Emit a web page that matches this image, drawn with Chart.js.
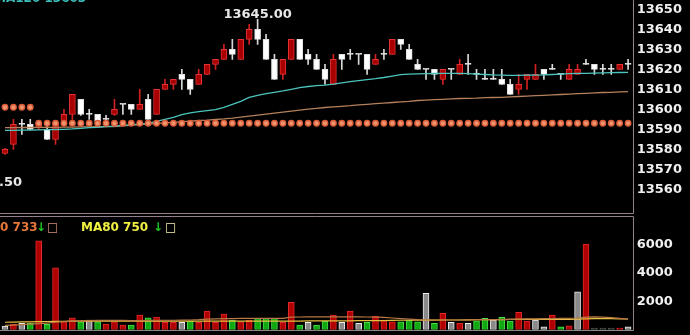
<!DOCTYPE html>
<html>
<head>
<meta charset="utf-8">
<script src="https://cdn.jsdelivr.net/npm/chart.js@4.4.0/dist/chart.umd.min.js"></script>
<style>
  html, body { margin: 0; padding: 0; background: #000; }
  #wrap { position: relative; width: 690px; height: 335px; overflow: hidden; background: #000; }
  #price { position: absolute; left: 0; top: 0; }
  #volume { position: absolute; left: 0; top: 214px; }
</style>
</head>
<body>
<div id="wrap">
  <canvas id="price" width="690" height="214"></canvas>
  <canvas id="volume" width="690" height="121"></canvas>
</div>
<script>
// candles
const opens = [13578,13582.5,13592.5,13592.5,13591,13590,13585,13594,13597.5,13605,
  13597.5,13597.5,13595,13597.5,13602.5,13602.5,13600,13605,13597.5,13610,
  13612.5,13617.5,13615,13612.5,13617.5,13622.5,13625,13630,13625,13635,
  13640,13635,13625,13617.5,13625,13635,13627.5,13625,13620,13612.5,
  13627.5,13627.5,13627.5,13627.5,13622.5,13627.5,13627.5,13635,13630,13622.5,
  13620,13620,13615,13620,13617.5,13622.5,13617.5,13615,13615,13615,
  13612.5,13610,13615,13615,13620,13620,13617.5,13615,13617.5,13622.5,
  13622.5,13620,13620,13620,13622.5];
const highs = [13580.5,13595,13595,13595,13594,13592,13593,13600,13607.5,13605,
  13600,13597.5,13597,13605,13602.5,13602.5,13610,13607.5,13610,13615,
  13615,13620,13615,13620,13622.5,13625,13632.5,13635,13635,13642.5,
  13645,13637.5,13627.5,13625,13635,13635,13630,13627.5,13622.5,13627.5,
  13627.5,13630,13627.5,13627.5,13627.5,13630,13635,13635,13632.5,13625,
  13620,13620,13620,13620,13625,13627.5,13620,13620,13620,13620,
  13615,13617.5,13617.5,13622.5,13620,13622.5,13617.5,13622.5,13622.5,13625,
  13622.5,13622.5,13622.5,13622.5,13625];
const lows = [13577.5,13580,13587.5,13590,13590,13585,13582.5,13593,13595,13597,
  13595,13593,13594,13597,13597.5,13597.5,13600,13595,13597.5,13610,
  13610,13610,13607.5,13612.5,13617.5,13620,13625,13625,13625,13632.5,
  13632.5,13625,13615,13615,13625,13625,13622.5,13620,13612.5,13612.5,
  13620,13625,13622.5,13617.5,13622.5,13625,13627.5,13630,13625,13620,
  13615,13615,13612.5,13615,13617.5,13617.5,13615,13615,13615,13612.5,
  13607.5,13607.5,13610,13615,13615,13620,13615,13615,13617.5,13622.5,
  13617.5,13617.5,13617.5,13620,13620];
const closes = [13580,13592.5,13592.5,13590,13593,13585,13592.5,13597.5,13607.5,13597.5,
  13597.5,13594,13595,13600,13602.5,13600,13602.5,13595,13610,13612.5,
  13615,13615,13610,13617.5,13622.5,13625,13630,13627.5,13635,13640,
  13635,13625,13615,13625,13635,13625,13625,13620,13615,13625,
  13625,13627.5,13627.5,13620,13625,13627.5,13635,13632.5,13625,13620,
  13620,13617.5,13620,13620,13622.5,13622.5,13617.5,13615,13615,13612.5,
  13607.5,13612.5,13617.5,13617.5,13617.5,13620,13617.5,13620,13620,13622.5,
  13620,13620,13620,13622.5,13622.5];

// moving averages on the price panel
const maFast = [13589.5,13589.5,13589.6,13589.6,13589.7,13589.8,13589.9,13590,13590.2,13590.5,
  13590.8,13591,13591.3,13591.6,13592,13592.3,13592.6,13593,13594,13595,
  13596,13597.3,13598.2,13598.8,13599.3,13599.8,13601,13602.5,13604,13606,
  13607,13607.8,13608.5,13609.2,13610,13610.8,13611.4,13611.8,13612.1,13612.6,
  13613.2,13613.8,13614.3,13614.8,13615.3,13615.9,13616.6,13617.3,13617.6,13617.7,
  13617.8,13617.9,13618,13618,13618,13617.8,13617.6,13617.4,13617.2,13617.1,
  13617,13617,13617.1,13617.1,13617.2,13617.4,13617.6,13617.8,13618,13618,
  13618.1,13618.2,13618.3,13618.4,13618.5];
const maSlow = [13590.8,13590.8,13590.9,13590.9,13591,13591,13591,13591.1,13591.1,13591.2,
  13591.2,13591.3,13591.3,13591.4,13591.7,13592,13592.3,13592.6,13592.9,13593.2,
  13593.5,13593.8,13594.1,13594.4,13594.6,13594.9,13595.2,13595.6,13596.1,13596.6,
  13597.1,13597.6,13598.1,13598.6,13599.1,13599.6,13600.1,13600.5,13600.9,13601.2,
  13601.5,13601.8,13602.2,13602.5,13602.8,13603.1,13603.4,13603.7,13604,13604.4,
  13604.6,13604.8,13605,13605.2,13605.4,13605.5,13605.6,13605.8,13605.9,13606,
  13606.2,13606.4,13606.6,13606.8,13607,13607.2,13607.4,13607.6,13607.8,13608,
  13608.2,13608.4,13608.5,13608.7,13608.8];
// stop dots
const stopDots = [13601,13601,13601,13601,13593,13593,13593,13593,13593,13593,
  13593,13593,13593,13593,13593,13593,13593,13593,13593,13593,
  13593,13593,13593,13593,13593,13593,13593,13593,13593,13593,
  13593,13593,13593,13593,13593,13593,13593,13593,13593,13593,
  13593,13593,13593,13593,13593,13593,13593,13593,13593,13593,
  13593,13593,13593,13593,13593,13593,13593,13593,13593,13593,
  13593,13593,13593,13593,13593,13593,13593,13593,13593,13593,
  13593,13593,13593,13593,13593];

// volume
const volumes = [250,370,440,440,6270,370,4370,550,830,550,
  670,550,390,550,320,320,1020,830,880,510,
  510,510,600,510,1310,510,1100,670,550,670,
  790,790,790,510,1920,320,510,320,600,1020,
  510,1310,440,510,950,670,550,550,670,550,
  2560,440,1150,510,440,440,620,790,670,860,
  600,1215,600,670,200,1020,200,270,2670,6040,
  100,100,100,100,200];
const volKind = ['w','r','w','g','r','g','r','r','r','g',
  'w','g','r','r','r','g','r','g','r','r',
  'r','w','g','r','r','r','r','g','r','r',
  'g','g','g','r','r','g','w','g','g','r',
  'w','r','w','g','r','r','r','g','g','g',
  'w','g','r','w','r','w','g','g','w','g',
  'g','r','r','w','w','r','g','r','w','r',
  'k','k','k','r','w'];
const volMa60 = [300,320,350,380,420,460,520,560,600,620,
  640,650,650,650,650,640,640,650,660,660,
  660,670,680,700,740,760,770,780,790,790,
  790,800,800,800,880,890,900,900,900,900,
  900,900,900,890,880,860,820,780,740,700,
  690,680,680,680,680,690,700,700,700,710,
  720,740,760,760,770,780,790,800,820,880,
  900,880,840,790,733];
const volMa80 = [520,530,540,550,560,570,580,590,600,600,
  600,600,600,600,600,600,600,600,600,600,
  600,600,600,600,600,600,600,600,600,600,
  600,600,600,600,600,600,610,610,610,620,
  620,620,630,630,640,640,650,660,660,670,
  670,670,680,680,680,690,700,700,710,710,
  720,720,720,720,720,720,720,720,740,760,
  780,780,770,760,750];

const priceTicks = [13560,13570,13580,13590,13600,13610,13620,13630,13640,13650];
const volTicks = [2000,4000,6000];

const labels = opens.map((_, i) => i + 1);
const AXIS_W = 57.7;
const FONT = 'bold 13px "DejaVu Sans"';
const BORDER = '#94808a';

const isUp = opens.map((o, i) => closes[i] > opens[i]);
const bodyFill = isUp.map(u => u ? '#a80000' : '#ffffff');
const bodyEdge = isUp.map(u => u ? '#e83232' : '#e0e0e0');
const wickCol = isUp.map(u => u ? '#d02020' : '#d8d8d8');

// keep the axis from pushing the plot area in
function fixAxis(s) {
  s.width = AXIS_W;
  s.paddingTop = 0;
  s.paddingBottom = 0;
}

const priceDecor = {
  id: 'priceDecor',
  afterDraw(chart) {
    const ctx = chart.ctx;
    const x = chart.scales.x, y = chart.scales.y;
    ctx.save();
    ctx.strokeStyle = BORDER;
    ctx.lineWidth = 1;
    ctx.beginPath();
    ctx.moveTo(633.5, 0); ctx.lineTo(633.5, 213.5);
    ctx.moveTo(0, 213.5); ctx.lineTo(633.5, 213.5);
    ctx.stroke();
    ctx.font = FONT;
    // highest price label
    const hi = Math.max(...highs), hiIdx = highs.indexOf(hi);
    ctx.fillStyle = '#e8e8e8';
    ctx.textAlign = 'center';
    ctx.textBaseline = 'alphabetic';
    ctx.fillText(hi.toFixed(2), x.getPixelForValue(hiIdx), y.getPixelForValue(hi) - 1);
    // low label cut off on the left
    ctx.textAlign = 'right';
    ctx.fillText('13557.50', 22, 186);
    // indicator caption cut off at the top
    ctx.textAlign = 'left';
    ctx.fillStyle = '#3cc0bc';
    ctx.font = 'bold 12px "DejaVu Sans"';
    ctx.fillText('MA120 13603', -6, 1.5);
    ctx.restore();
  }
};

const tickFont = { family: 'DejaVu Sans', size: 13, weight: 'bold' };

new Chart(document.getElementById('price'), {
  type: 'bar',
  data: {
    labels: labels,
    datasets: [
      {
        type: 'line', data: stopDots, showLine: false, order: 0,
        pointRadius: 2.8, pointBackgroundColor: '#f0946e', pointBorderColor: '#d85a36', pointBorderWidth: 1.3
      },
      {
        type: 'line', data: maFast, order: 1, borderColor: '#4cc4bc', borderWidth: 1.3, pointRadius: 0, tension: 0
      },
      {
        type: 'line', data: maSlow, order: 1, borderColor: '#b4805c', borderWidth: 1.3, pointRadius: 0, tension: 0
      },
      {
        data: opens.map((o, i) => [o, closes[i]]), order: 2, grouped: false,
        barThickness: 6, minBarLength: 1, borderSkipped: false, borderWidth: 1,
        backgroundColor: bodyFill, borderColor: bodyEdge
      },
      {
        data: lows.map((l, i) => [l, highs[i]]), order: 3, grouped: false,
        barThickness: 1, borderWidth: 0, backgroundColor: wickCol
      }
    ]
  },
  options: {
    responsive: false,
    animation: false,
    layout: { autoPadding: false, padding: { left: 0.8, right: 0, top: 0, bottom: 0 } },
    plugins: { legend: { display: false }, tooltip: { enabled: false } },
    scales: {
      x: { display: false, offset: true },
      y: {
        position: 'right',
        min: 13547.65, max: 13654.65,
        afterBuildTicks: s => { s.ticks = priceTicks.map(v => ({ value: v })); },
        afterFit: fixAxis,
        grid: { display: false, drawTicks: false },
        border: { display: false },
        ticks: { color: '#f0f0f0', font: tickFont, padding: 4.4, callback: v => String(v) }
      }
    }
  },
  plugins: [priceDecor]
});

const volFill = { r: '#b00000', g: '#12a812', w: '#8a8a8a', k: '#3a3a3a' };
const volEdge = { r: '#e42a2a', g: '#4ade4a', w: '#ececec', k: '#5a5a5a' };

const volDecor = {
  id: 'volDecor',
  afterDraw(chart) {
    const ctx = chart.ctx;
    ctx.save();
    ctx.strokeStyle = BORDER;
    ctx.lineWidth = 1;
    ctx.beginPath();
    ctx.moveTo(0, 2.5); ctx.lineTo(633.5, 2.5);
    ctx.moveTo(633.5, 2.5); ctx.lineTo(633.5, 116.5);
    ctx.stroke();
    ctx.strokeStyle = '#8a8a8a';
    ctx.beginPath();
    ctx.moveTo(0, 116.5); ctx.lineTo(633.5, 116.5);
    ctx.stroke();
    ctx.font = 'bold 12px "DejaVu Sans"';
    ctx.textBaseline = 'alphabetic';
    ctx.textAlign = 'left';
    const row = 16.5;
    ctx.fillStyle = '#e8783a';
    ctx.fillText('0 ' + volMa60[volMa60.length - 1], 0, row);
    ctx.fillStyle = '#22c822';
    ctx.fillText('↓', 36, row);
    ctx.fillStyle = '#d8907a';
    ctx.fillText('□', 47, row);
    ctx.fillStyle = '#f0f040';
    ctx.fillText('MA80 ' + volMa80[volMa80.length - 1], 81, row);
    ctx.fillStyle = '#22c822';
    ctx.fillText('↓', 153, row);
    ctx.fillStyle = '#f4f0b0';
    ctx.fillText('□', 165, row);
    ctx.restore();
  }
};

new Chart(document.getElementById('volume'), {
  type: 'bar',
  data: {
    labels: labels,
    datasets: [
      {
        type: 'line', data: volMa60, order: 0, borderColor: '#b87a44', borderWidth: 1.2, pointRadius: 0, tension: 0
      },
      {
        type: 'line', data: volMa80, order: 0, borderColor: '#e6c040', borderWidth: 1.2, pointRadius: 0, tension: 0
      },
      {
        data: volumes, order: 1, barThickness: 6, borderWidth: 1, borderSkipped: false,
        backgroundColor: volKind.map(k => volFill[k]), borderColor: volKind.map(k => volEdge[k])
      }
    ]
  },
  options: {
    responsive: false,
    animation: false,
    layout: { autoPadding: false, padding: { left: 0.8, right: 0, top: 2, bottom: 5.4 } },
    plugins: { legend: { display: false }, tooltip: { enabled: false } },
    scales: {
      x: { display: false, offset: true },
      y: {
        position: 'right',
        min: 0, max: 8028,
        afterBuildTicks: s => { s.ticks = volTicks.map(v => ({ value: v })); },
        afterFit: fixAxis,
        grid: { display: false, drawTicks: false },
        border: { display: false },
        ticks: { color: '#f0f0f0', font: tickFont, padding: 4.4, callback: v => String(v) }
      }
    }
  },
  plugins: [volDecor]
});
</script>
</body>
</html>
